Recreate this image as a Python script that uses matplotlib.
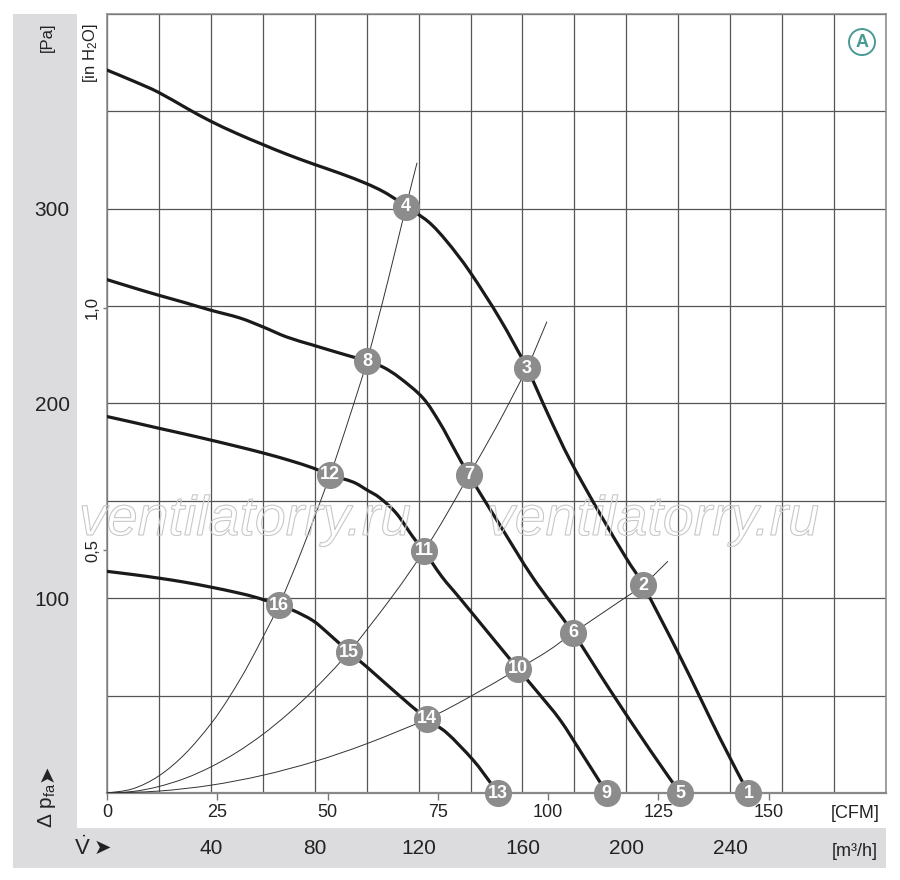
import numpy as np
import matplotlib
matplotlib.use("Agg")
import matplotlib.pyplot as plt
from matplotlib.patches import Rectangle, Circle, PathPatch
from matplotlib.path import Path
from matplotlib.textpath import TextPath
from matplotlib.font_manager import FontProperties
from matplotlib.transforms import Affine2D

plt.rcParams['font.family'] = ['Liberation Sans Narrow', 'Liberation Sans', 'DejaVu Sans']
plt.rcParams['mathtext.fontset'] = 'custom'
plt.rcParams['mathtext.rm'] = 'Liberation Sans'
plt.rcParams['mathtext.it'] = 'Liberation Sans:italic'
plt.rcParams['mathtext.bf'] = 'Liberation Sans:bold'

# fan curves, x in m3/h, y in Pa
curve_a_x = [0, 10.1, 19.8, 30.7, 39.7, 49.9, 59.8, 69.2, 79.8, 89.7, 99.6, 106.4, 111.6, 115.1,
             123.7, 131, 139.8, 151.3, 161.7, 170, 178.3, 190, 200, 206.4, 220.7, 236.1, 247.0]
curve_a_y = [371.2, 365.6, 359.8, 351.6, 345.1, 338.7, 333.1, 328.0, 322.8, 318.2, 313.1, 308.8,
             304.5, 301.1, 293.4, 283, 267.5, 243.5, 218.2, 194, 171, 143, 120.5, 106.8, 70, 28, 0]

curve_b_x = [0, 10, 19.6, 30, 39.7, 51.2, 60.1, 69.3, 79.3, 88, 94.7, 100.1, 106.3, 112.8,
             121.7, 128.2, 134, 139.4, 151.3, 164.1, 179.5, 193.7, 209.1, 220.7]
curve_b_y = [263.6, 259.5, 255.7, 251.8, 248.0, 243.9, 239.3, 234.1, 230.0, 226.5, 223.9, 221.8,
             218.7, 213.1, 202.8, 190, 176, 163.3, 137.6, 110.4, 82.2, 52.9, 22.1, 0]

curve_c_x = [0, 9.8, 19.6, 29.7, 39.7, 50, 60.1, 70, 79.3, 85.9, 94.7, 100.1, 105.1, 111.5,
             117.8, 122.1, 129.0, 135.9, 147, 158.3, 166, 174.5, 183, 192.5]
curve_c_y = [193.3, 190.4, 187.4, 184.4, 181.3, 178.0, 174.6, 170.9, 166.9, 163.3, 159.7, 155.6,
             151.5, 143.5, 131.5, 124.3, 111, 100, 82, 63.7, 51.5, 37.5, 20, 0]

curve_d_x = [0, 9.8, 19.6, 29.7, 39.7, 50, 58, 66.2, 72, 79.3, 85, 93.2, 100.1, 110.1, 123.2,
             130.9, 141.0, 147.5, 150.6]
curve_d_y = [113.8, 112.2, 110.4, 108.3, 105.8, 102.9, 100.2, 96.5, 93.6, 88.5, 82.2, 72.4, 64.7,
             52.9, 38.0, 30.8, 16.9, 5.6, 0]

# system resistance curves
sys_1_x = [0, 10, 20, 30, 40, 47.4, 55, 66.2, 75, 85.9, 93, 100.1, 108, 115.1, 119.4]
sys_1_y = [0, 2.2, 8.8, 20.0, 35.5, 49.9, 67.2, 96.5, 124.5, 163.3, 191.5, 221.8, 262, 300.9, 323.6]

sys_2_x = [0, 10, 19.6, 30, 40, 50, 60, 70, 80, 93.2, 110, 122.1, 130, 139.4, 150, 161.7, 169.4]
sys_2_y = [0, 0.8, 3.2, 7.5, 13.4, 20.9, 30.1, 41, 53.5, 72.4, 101.2, 124.3, 141.3, 163.3, 188.1,
           218.2, 242]

sys_3_x = [0, 20, 40, 60, 80, 100, 123.2, 140, 158.3, 170, 179.5, 195, 206.4, 216]
sys_3_y = [0, 1.0, 4.0, 9.1, 16.2, 25.3, 38.0, 49.6, 63.7, 73.1, 82.2, 96.2, 106.8, 119]

# operating points
op_id = [1, 2, 3, 4, 5, 6, 7, 8, 9, 10, 11, 12, 13, 14, 15, 16]
op_x = [247.0, 206.4, 161.7, 115.1, 220.7, 179.5, 139.4, 100.1, 192.5, 158.3, 122.1, 85.9,
        150.6, 123.2, 93.2, 66.2]
op_y = [0, 106.8, 218.2, 301.1, 0, 82.2, 163.3, 221.8, 0, 63.7, 124.3, 163.3, 0, 38.0, 72.4,
        96.5]

pa_ticks = [100, 200, 300]
m3h_ticks = [40, 80, 120, 160, 200, 240]
cfm_ticks = [0, 25, 50, 75, 100, 125, 150]
inh2o_ticks = [0.5, 1.0]

W, H = 900, 880
fig = plt.figure(figsize=(W / 100, H / 100), dpi=100)


def fx(px):
    return px / W


def fy(py):
    return 1 - py / H


def smooth(xs, ys):
    # catmull-rom through the read points, drawn as cubic bezier segments
    p = np.column_stack([xs, ys]).astype(float)
    n = len(p)
    verts = [p[0]]
    codes = [Path.MOVETO]
    for i in range(n - 1):
        p0 = p[i - 1] if i > 0 else p[i]
        p3 = p[i + 2] if i + 2 < n else p[i + 1]
        verts += [p[i] + (p[i + 1] - p0) / 6, p[i + 1] - (p3 - p[i]) / 6, p[i + 1]]
        codes += [Path.CURVE4] * 3
    return Path(verts, codes)


band = '#dcdcde'
fig.add_artist(Rectangle((fx(13), fy(828)), fx(77) - fx(13), fy(14) - fy(828),
                         transform=fig.transFigure, color=band, zorder=-5, lw=0))
fig.add_artist(Rectangle((fx(13), fy(868)), fx(886) - fx(13), fy(828) - fy(868),
                         transform=fig.transFigure, color=band, zorder=-5, lw=0))

ax = fig.add_axes([fx(107), fy(793), fx(886) - fx(107), fy(14) - fy(793)])
ax.set_xlim(0, 300)
ax.set_ylim(0, 400)

ax.set_xticks(np.arange(0, 301, 20), minor=True)
ax.set_yticks(np.arange(0, 401, 50), minor=True)
ax.set_xticks(m3h_ticks, [str(v) for v in m3h_ticks])
ax.set_yticks(pa_ticks, [str(v) for v in pa_ticks])
ax.grid(which='both', color='#555555', lw=0.9)
ax.set_axisbelow(True)
ax.tick_params(which='both', length=0)
ax.tick_params(axis='x', which='major', pad=33, labelsize=15, labelcolor='#222222')
ax.tick_params(axis='y', which='major', pad=27, labelsize=15, labelcolor='#222222')
for s in ax.spines.values():
    s.set_color('#888888')
    s.set_linewidth(1.1)
ax.spines['bottom'].set_linewidth(1.6)

# secondary axes
sec_cfm = ax.secondary_xaxis('bottom', functions=(lambda m: m / 1.699, lambda c: c * 1.699))
sec_cfm.set_xticks(cfm_ticks, [str(v) for v in cfm_ticks])
sec_cfm.tick_params(length=5, width=1, color='#777777', labelsize=13, pad=3,
                    labelcolor='#222222')
sec_cfm.spines['bottom'].set_visible(False)

sec_in = ax.secondary_yaxis('left', functions=(lambda p: p / 249.09, lambda h: h * 249.09))
sec_in.set_yticks(inh2o_ticks, ['0,5', '1,0'])
sec_in.tick_params(length=3, width=1, color='#777777', labelsize=12, pad=2,
                   labelcolor='#222222', labelrotation=90)
for lab in sec_in.get_yticklabels():
    lab.set_va('center')
sec_in.spines['left'].set_visible(False)

# watermark
fp = FontProperties(family='Liberation Sans', style='italic')
for x0 in (82, 490):
    tp = TextPath((0, 0), 'ventilatorry.ru', size=1, prop=fp)
    ext = tp.get_extents()
    sc = 328 / ext.width
    tr = Affine2D().translate(-ext.x0, 0).scale(sc / 100).translate(x0 / 100, (H - 535) / 100)
    fig.add_artist(PathPatch(tp, transform=tr + fig.dpi_scale_trans, fc='none',
                             ec='#c8c8c8', lw=0.8, zorder=1.5))

# system curves
for xs, ys in ((sys_1_x, sys_1_y), (sys_2_x, sys_2_y), (sys_3_x, sys_3_y)):
    ax.add_patch(PathPatch(smooth(xs, ys), fc='none', ec='#333333', lw=0.7, zorder=3))

# fan curves
for xs, ys in ((curve_a_x, curve_a_y), (curve_b_x, curve_b_y),
               (curve_c_x, curve_c_y), (curve_d_x, curve_d_y)):
    ax.add_patch(PathPatch(smooth(xs, ys), fc='none', ec='#1a1a1a', lw=2.3, zorder=4,
                           capstyle='round', joinstyle='round'))

ax.plot(op_x, op_y, 'o', ms=18.5, color='#8c8c8c', mec='#8c8c8c', zorder=6, clip_on=False)
for i, x, y in zip(op_id, op_x, op_y):
    ax.text(x, y, str(i), color='white', fontsize=13, fontweight='bold', ha='center',
            va='center', zorder=7, clip_on=False)

# circled A
teal = '#4a9a94'
ax.add_patch(Circle((0.9692, 0.964), 13 / 779, transform=ax.transAxes, fc='white',
                    ec=teal, lw=1.4, zorder=5))
ax.text(0.9692, 0.964, 'A', transform=ax.transAxes, color=teal, fontsize=13,
        fontweight='bold', ha='center', va='center', zorder=6)

# axis captions
fig.text(fx(47), fy(23), '[Pa]', rotation=90, ha='center', va='top', fontsize=12,
         color='#222222')
fig.text(fx(91), fy(23), '[in H$_2$O]', rotation=90, ha='center', va='top', fontsize=12,
         color='#222222')
fig.text(fx(47), fy(828), r'$\Delta$ p$_{\mathrm{fa}}$', rotation=90, ha='center',
         va='bottom', fontsize=15, color='#222222')
fig.text(fx(47), fy(765), '➤', family=['DejaVu Sans'], rotation=90, ha='center', va='top',
         fontsize=15, color='#222222')
fig.text(fx(82), fy(848), r'$\dot{\mathrm{V}}$', ha='center', va='center', fontsize=16,
         color='#222222')
fig.text(fx(102), fy(848), '➤', family=['DejaVu Sans'], ha='center', va='center', fontsize=15,
         color='#222222')
fig.text(fx(855), fy(813), '[CFM]', ha='center', va='center', fontsize=13, color='#222222')
fig.text(fx(855), fy(851), '[m³/h]', ha='center', va='center', fontsize=13, color='#222222')

fig.savefig('out.png', dpi=100)
